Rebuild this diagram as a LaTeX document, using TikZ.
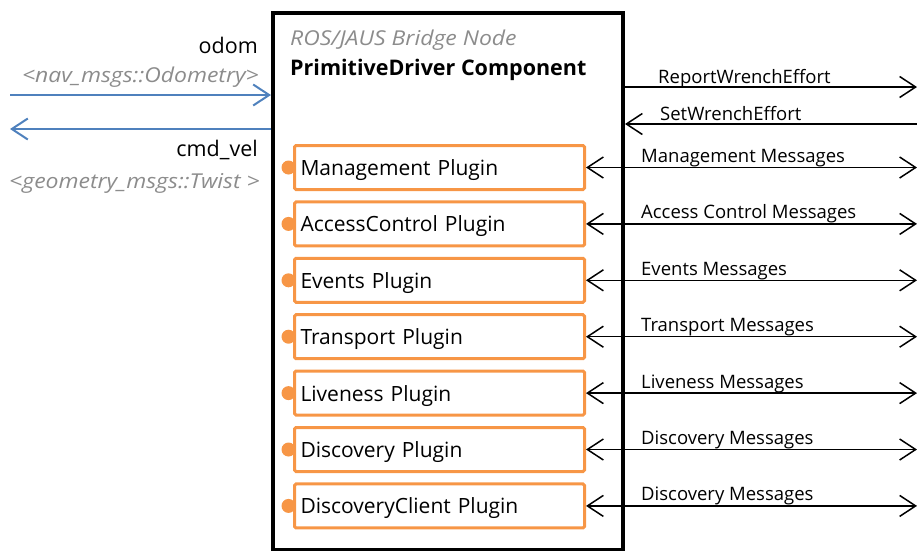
\documentclass[tikz,border=0pt]{standalone}
\usepackage{fontspec}
\setmainfont{Open Sans}
\usetikzlibrary{arrows.meta}
\definecolor{plugorange}{HTML}{F79646}
\definecolor{linkblue}{HTML}{4F81BD}
\definecolor{txtgray}{HTML}{8C8C8C}
\newfontfamily\italwide[FakeStretch=1.12]{Open Sans}
\tikzset{
  x=1pt,y=-1pt,
  plugin/.style={draw=plugorange, line width=3pt, rounded corners=1.5pt, minimum width=290pt, minimum height=44pt, anchor=west, text width=282pt, align=left, font=\fontsize{21}{24}\selectfont, inner sep=0pt, text depth=0pt},
  msg/.style={font=\fontsize{18.5}{21}\selectfont, anchor=base west, inner sep=0pt},
  tipk/.tip={Straight Barb[length=16pt,width=21pt,line width=1.5pt]},
  barb/.style={-tipk},
  dbarb/.style={tipk-tipk},
  conn/.style={line width=1.4pt},
  blueconn/.style={draw=linkblue, line width=2pt, -{Straight Barb[length=16pt,width=21pt,line width=2pt]}},
  lbl/.style={font=\fontsize{21.5}{24}\selectfont, anchor=east, inner sep=0pt},
  typ/.style={font=\italwide\fontsize{20.5}{24}\itshape\selectfont, text=txtgray, anchor=east, inner sep=0pt}
}
\begin{document}
\begin{tikzpicture}
\useasboundingbox (0,0) rectangle (917,550);
% main box
\node[draw, line width=4pt, minimum width=350pt, minimum height=537pt, anchor=north west, inner sep=0pt] (main) at (271,11) {};
\node[anchor=west, inner sep=0pt, font=\italwide\fontsize{20.5}{24}\itshape\selectfont, text=txtgray] (title1) at (290,40) {ROS/JAUS Bridge Node};
\node[anchor=west, inner sep=0pt, font=\fontsize{21.5}{24}\bfseries\selectfont] (title2) at (290,70) {PrimitiveDriver Component};
% plugins
\foreach \i/\t/\m [count=\k from 0] in {p1/Management Plugin/Management Messages, p2/AccessControl Plugin/Access Control Messages, p3/Events Plugin/Events Messages, p4/Transport Plugin/Transport Messages, p5/Liveness Plugin/Liveness Messages, p6/Discovery Plugin/Discovery Messages, p7/DiscoveryClient Plugin/Discovery Messages}{
  \pgfmathsetmacro{\yy}{167.5+56.4*\k}
  \fill[plugorange] (288.5,\yy) circle (7pt);
  \node[plugin] (\i) at (293,\yy) {\hspace*{2pt}\t};
  \coordinate (\i e) at (917,\yy);
  \draw[conn, dbarb] (\i.east) -- (\i e);
  \node[msg] (\i m) at (641,\yy-5) {\m};
}
% top right arrows
\coordinate (rwe) at (917,87);
\coordinate (swe) at (917,124);
\draw[conn, barb] (main.east |- rwe) -- (rwe);
\draw[conn, barb] (swe) -- (main.east |- swe);
\node[msg] (rwel) at (658,83) {ReportWrenchEffort};
\node[msg] (swel) at (660,120) {SetWrenchEffort};
% left side
\coordinate (od) at (10,95);
\coordinate (cv) at (10,129);
\draw[blueconn] (od) -- (main.west |- od);
\draw[blueconn] (main.west |- cv) -- (cv);
\node[lbl] (odom) at (258,45) {odom};
\node[typ] (odt) at (259,77) {<nav\_msgs::Odometry>};
\node[lbl] (cmd) at (258,150) {cmd\_vel};
\node[typ] (cmt) at (260,183) {<geometry\_msgs::Twist >};
\end{tikzpicture}
\end{document}
